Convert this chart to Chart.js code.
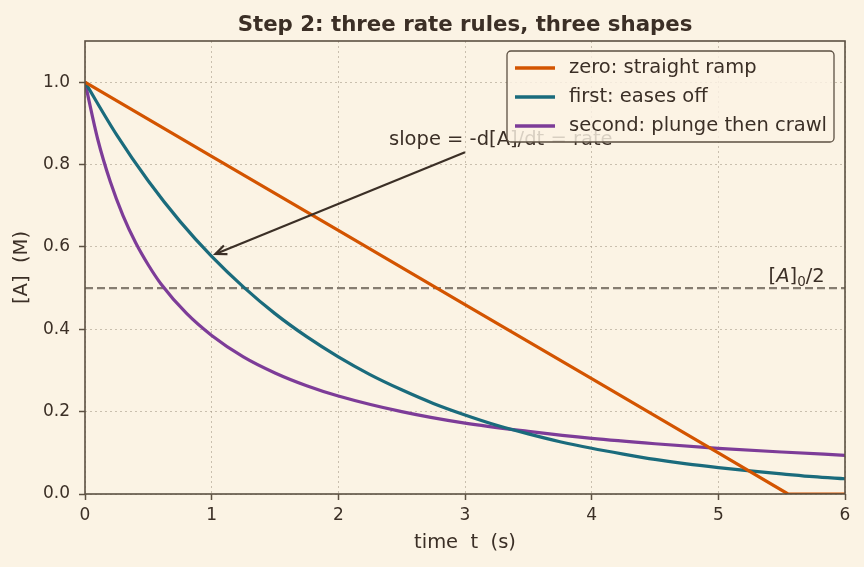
<!DOCTYPE html>
<html>
<head>
<meta charset="utf-8">
<script src="https://cdn.jsdelivr.net/npm/chart.js@4.4.1/dist/chart.umd.min.js"></script>
<style>
  html, body { margin: 0; padding: 0; background: #fbf3e4; }
  #wrap { width: 864px; height: 567px; }
</style>
</head>
<body>
<div id="wrap"><canvas id="kin"></canvas></div>
<script>
// valores
var tZero = [0, 1, 2, 3, 4, 5, 5.55, 6];
var aZero = [1.0, 0.82, 0.64, 0.46, 0.28, 0.10, 0.0, 0.0];

var tFirst = [0, 0.25, 0.5, 0.75, 1, 1.25, 1.5, 1.75, 2, 2.25, 2.5, 2.75, 3, 3.25, 3.5, 3.75, 4, 4.25, 4.5, 4.75, 5, 5.25, 5.5, 5.75, 6];
var aFirst = [1.0, 0.872, 0.760, 0.662, 0.577, 0.503, 0.438, 0.382, 0.333, 0.290, 0.253, 0.220, 0.192, 0.167, 0.146, 0.127, 0.111, 0.097, 0.084, 0.073, 0.064, 0.056, 0.049, 0.042, 0.037];

var tSecond = [0, 0.1, 0.2, 0.3, 0.4, 0.5, 0.6, 0.8, 1.0, 1.25, 1.5, 1.75, 2, 2.5, 3, 3.5, 4, 4.5, 5, 5.5, 6];
var aSecond = [1.0, 0.862, 0.758, 0.676, 0.610, 0.556, 0.510, 0.439, 0.385, 0.333, 0.294, 0.263, 0.238, 0.200, 0.172, 0.152, 0.135, 0.122, 0.111, 0.102, 0.094];

var etiquetas = ['zero: straight ramp', 'first: eases off', 'second: plunge then crawl'];
var colores = ['#d35400', '#1a6b7c', '#7d3c98'];
var xTicks = [0, 1, 2, 3, 4, 5, 6];
var yTicks = [0.0, 0.2, 0.4, 0.6, 0.8, 1.0];
var mitad = 0.5;

var TEXTO = '#3b2f26';
var EJE = '#5c5042';
var REJILLA = 'rgba(160,148,130,0.55)';
var FUENTE = '"DejaVu Sans", sans-serif';

function pares(xs, ys) {
    return xs.map(function (x, i) { return { x: x, y: ys[i] }; });
}

// plugin: título, marco, anotaciones y leyenda propia
var extras = {
    id: 'extras',
    afterDatasetsDraw: function (chart) {
        var c = chart.ctx, a = chart.chartArea;
        var sx = chart.scales.x, sy = chart.scales.y;
        c.save();
        // marco
        c.strokeStyle = EJE;
        c.lineWidth = 1.6;
        c.strokeRect(a.left, a.top, a.right - a.left, a.bottom - a.top);

        // flecha de pendiente
        var x0 = sx.getPixelForValue(3.0), y0 = sy.getPixelForValue(0.83);
        var x1 = sx.getPixelForValue(1.03), y1 = sy.getPixelForValue(0.583);
        c.strokeStyle = TEXTO;
        c.fillStyle = TEXTO;
        c.lineWidth = 2.2;
        c.beginPath();
        c.moveTo(x0, y0);
        c.lineTo(x1, y1);
        c.stroke();
        var ang = Math.atan2(y1 - y0, x1 - x0);
        c.beginPath();
        c.moveTo(x1 - 12 * Math.cos(ang - 0.4), y1 - 12 * Math.sin(ang - 0.4));
        c.lineTo(x1, y1);
        c.lineTo(x1 - 12 * Math.cos(ang + 0.4), y1 - 12 * Math.sin(ang + 0.4));
        c.stroke();

        c.font = '19.5px ' + FUENTE;
        c.textBaseline = 'alphabetic';
        c.textAlign = 'left';
        c.fillText('slope = -d[A]/dt = rate', sx.getPixelForValue(2.4), 145);

        // etiqueta [A]0/2, alineada a la derecha
        var partes = [['[', '19.5px ', 0], ['A', 'oblique 19.5px ', 0], [']', '19.5px ', 0], ['0', '13.5px ', 4], ['/2', '19.5px ', 0]];
        var total = 0;
        partes.forEach(function (p) { c.font = p[1] + FUENTE; total += c.measureText(p[0]).width; });
        var bx = sx.getPixelForValue(5.84) - total, by = sy.getPixelForValue(0.515);
        partes.forEach(function (p) {
            c.font = p[1] + FUENTE;
            c.fillText(p[0], bx, by + p[2]);
            bx += c.measureText(p[0]).width;
        });

        // leyenda
        var lx = 507, ly = 51, lw = 327, lh = 91;
        c.fillStyle = 'rgba(251,243,228,0.82)';
        c.strokeStyle = EJE;
        c.lineWidth = 1.3;
        c.beginPath();
        c.roundRect(lx, ly, lw, lh, 4);
        c.fill();
        c.stroke();
        c.font = '19.5px ' + FUENTE;
        c.textBaseline = 'middle';
        for (var i = 0; i < etiquetas.length; i++) {
            var yy = ly + 17 + i * 29;
            c.strokeStyle = colores[i];
            c.lineWidth = 3.5;
            c.beginPath();
            c.moveTo(lx + 8, yy);
            c.lineTo(lx + 48, yy);
            c.stroke();
            c.fillStyle = TEXTO;
            c.fillText(etiquetas[i], lx + 62, yy);
        }

        // título
        c.font = 'bold 21.3px ' + FUENTE;
        c.textAlign = 'center';
        c.textBaseline = 'alphabetic';
        c.fillStyle = TEXTO;
        c.fillText('Step 2: three rate rules, three shapes', (a.left + a.right) / 2, 31);
        c.restore();
    }
};

var ctx = document.getElementById('kin').getContext('2d');
var chart = new Chart(ctx, {
    type: 'line',
    data: {
        datasets: [{
            label: etiquetas[0],
            data: pares(tZero, aZero),
            borderColor: colores[0],
            borderWidth: 3.2,
            tension: 0,
            pointRadius: 0
        }, {
            label: etiquetas[1],
            data: pares(tFirst, aFirst),
            borderColor: colores[1],
            borderWidth: 3.2,
            cubicInterpolationMode: 'monotone',
            pointRadius: 0
        }, {
            label: etiquetas[2],
            data: pares(tSecond, aSecond),
            borderColor: colores[2],
            borderWidth: 3.2,
            cubicInterpolationMode: 'monotone',
            pointRadius: 0
        }, {
            label: 'half',
            data: [{ x: 0, y: mitad }, { x: 6, y: mitad }],
            borderColor: '#857c70',
            borderWidth: 2.2,
            borderDash: [8, 4],
            pointRadius: 0,
            order: 5
        }]
    },
    options: {
        responsive: true,
        maintainAspectRatio: false,
        animation: false,
        layout: { padding: { top: 41, right: 19, left: 0, bottom: 0 } },
        plugins: {
            legend: { display: false },
            title: { display: false },
            tooltip: { enabled: false }
        },
        scales: {
            x: {
                type: 'linear',
                min: 0,
                max: 6,
                afterBuildTicks: function (s) { s.ticks = xTicks.map(function (v) { return { value: v }; }); },
                afterFit: function (s) { s.height = 73; },
                ticks: { color: TEXTO, font: { family: FUENTE, size: 17 }, padding: 5 },
                grid: { color: REJILLA, lineWidth: 1, tickLength: 6, tickColor: EJE, tickWidth: 1.5 },
                border: { display: false, dash: [2, 3] },
                title: { display: true, text: 'time  t  (s)', color: TEXTO, font: { family: FUENTE, size: 19.5 }, padding: { top: 0, bottom: 12 } }
            },
            y: {
                type: 'linear',
                min: 0,
                max: 1.1,
                afterBuildTicks: function (s) { s.ticks = yTicks.map(function (v) { return { value: v }; }); },
                afterFit: function (s) { s.width = 85; },
                ticks: {
                    color: TEXTO, font: { family: FUENTE, size: 17 }, padding: 9,
                    callback: function (v) { return v.toFixed(1); }
                },
                grid: { color: REJILLA, lineWidth: 1, tickLength: 6, tickColor: EJE, tickWidth: 1.5 },
                border: { display: false, dash: [2, 3] },
                title: { display: true, text: '[A]  (M)', color: TEXTO, font: { family: FUENTE, size: 19.5 }, padding: { top: 10, bottom: 0 } }
            }
        }
    },
    plugins: [extras]
});
</script>
</body>
</html>
